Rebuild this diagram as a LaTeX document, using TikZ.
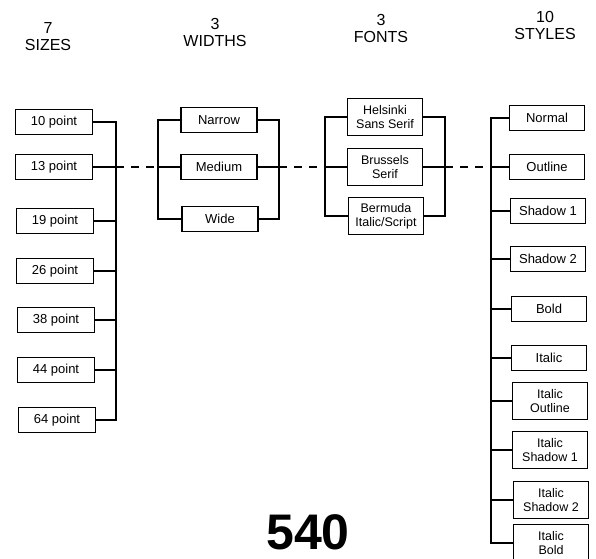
\documentclass[tikz,border=0pt]{standalone}
\usepackage{fontspec}
\setmainfont{Liberation Sans}
\begin{document}
\begin{tikzpicture}[x=1pt,y=-1pt,line width=1.1pt,
  box/.style={draw,line width=1.2pt,inner sep=1pt,align=center,
    minimum height=25pt,font=\fontsize{13}{14}\selectfont},
  tbox/.style={box,minimum height=37pt,font=\fontsize{12.5}{14}\selectfont},
  sizebox/.style={box,minimum width=77pt},
  widthbox/.style={box,minimum width=76pt},
  fontbox/.style={tbox,minimum width=75pt},
  stylebox/.style={box,minimum width=75pt},
  stylebox2/.style={tbox,minimum width=75pt},
  head/.style={align=center,inner sep=0pt,font=\fontsize{16}{17}\selectfont},
  link/.style={dash pattern=on 8pt off 7pt}]
\useasboundingbox (0,0) rectangle (596,558);
\clip (0,0) rectangle (596,558);

% headers
\node[head] (hs) at (48,37) {7\\SIZES};
\node[head] (hw) at (215,32) {3\\WIDTHS};
\node[head] (hf) at (381,28) {3\\FONTS};
\node[head] (hy) at (545,25) {10\\STYLES};

% sizes
\node[sizebox] (s1) at (54,122) {10 point};
\node[sizebox] (s2) at (54,167) {13 point};
\node[sizebox] (s3) at (55,221) {19 point};
\node[sizebox] (s4) at (55,271) {26 point};
\node[sizebox] (s5) at (56,320) {38 point};
\node[sizebox] (s6) at (56,370) {44 point};
\node[sizebox] (s7) at (57,420) {64 point};
\coordinate (sbar) at (116,122);

% widths
\node[widthbox] (w1) at (219,120) {Narrow};
\node[widthbox] (w2) at (219,167) {Medium};
\node[widthbox] (w3) at (220,219) {Wide};
\coordinate (wl) at (158,120);
\coordinate (wr) at (279,120);

% fonts
\node[fontbox] (f1) at (385,117) {Helsinki\\Sans Serif};
\node[fontbox] (f2) at (385,167) {Brussels\\Serif};
\node[fontbox] (f3) at (386,216) {Bermuda\\Italic/Script};
\coordinate (fl) at (325,117);
\coordinate (fr) at (445,117);

% styles
\node[stylebox] (y1) at (547,118) {Normal};
\node[stylebox] (y2) at (547,167) {Outline};
\node[stylebox] (y3) at (548,211) {Shadow 1};
\node[stylebox] (y4) at (548,259) {Shadow 2};
\node[stylebox] (y5) at (549,309) {Bold};
\node[stylebox] (y6) at (549,358) {Italic};
\node[stylebox2] (y7) at (550,401) {Italic\\Outline};
\node[stylebox2] (y8) at (550,450) {Italic\\Shadow 1};
\node[stylebox2] (y9) at (551,500) {Italic\\Shadow 2};
\node[stylebox2] (y10) at (551,543) {Italic\\Bold};
\coordinate (ybar) at (491,118);

% sizes tree
\draw (s1.east) -- (s1.east -| sbar) -- (s7.east -| sbar) -- (s7.east);
\foreach \n in {s2,s3,s4,s5,s6} \draw (\n.east) -- (\n.east -| sbar);

% widths brackets
\draw (w1.west) -- (w1.west -| wl) -- (w3.west -| wl) -- (w3.west);
\draw (w2.west) -- (w2.west -| wl);
\draw (w1.east) -- (w1.east -| wr) -- (w3.east -| wr) -- (w3.east);
\draw (w2.east) -- (w2.east -| wr);

% fonts brackets
\draw (f1.west) -- (f1.west -| fl) -- (f3.west -| fl) -- (f3.west);
\draw (f2.west) -- (f2.west -| fl);
\draw (f1.east) -- (f1.east -| fr) -- (f3.east -| fr) -- (f3.east);
\draw (f2.east) -- (f2.east -| fr);

% styles tree
\draw (y1.west) -- (y1.west -| ybar) -- (y10.west -| ybar) -- (y10.west);
\foreach \n in {y2,y3,y4,y5,y6,y7,y8,y9} \draw (\n.west) -- (\n.west -| ybar);

% dashed links
\draw[link] (s2.east -| sbar) -- (w2.west -| wl);
\draw[link] (w2.east -| wr) -- (f2.west -| fl);
\draw[link] (f2.east -| fr) -- (y2.west -| ybar);

% page number
\node[anchor=base,inner sep=0pt,font=\fontsize{50}{50}\bfseries] (pn) at (308,549) {540};
\end{tikzpicture}
\end{document}
